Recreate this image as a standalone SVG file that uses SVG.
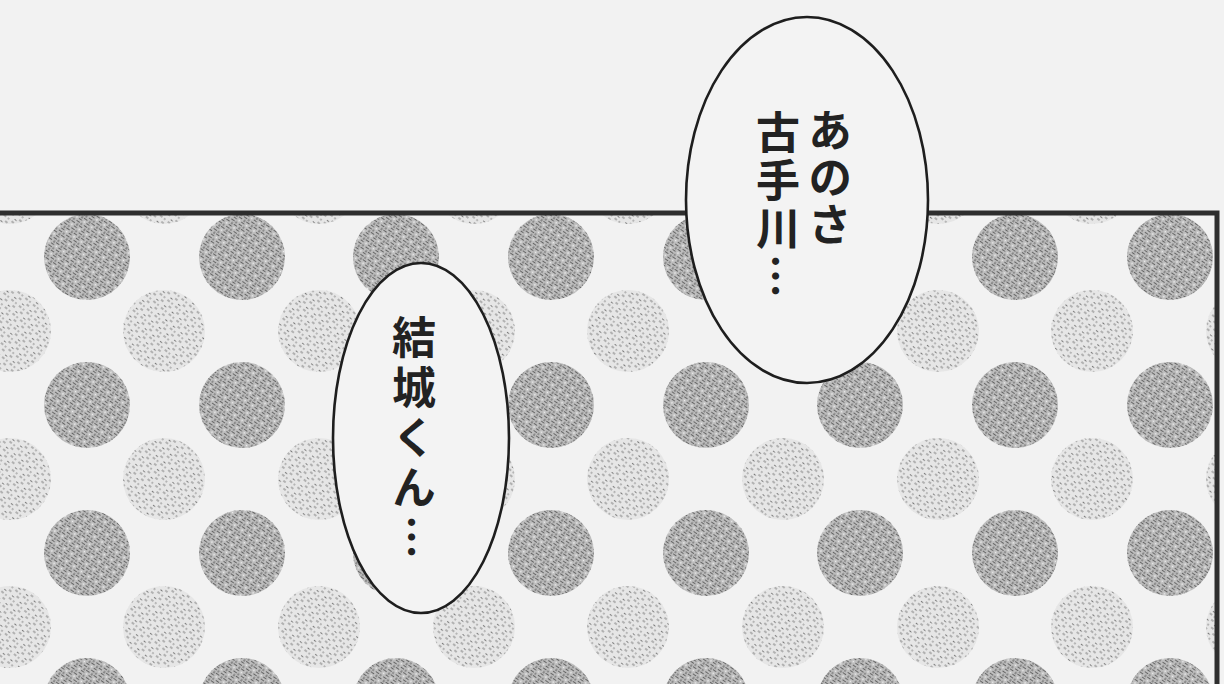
<svg xmlns="http://www.w3.org/2000/svg" width="1224" height="684" viewBox="0 0 1224 684">
<style>
.bg{fill:#f2f2f2}
.frame{fill:none;stroke:#2e2e2e;stroke-width:5}
.dk{fill:url(#darkTex)}
.lt{fill:url(#lightTex)}
.balloon{fill:#f3f3f3;stroke:#1e1e1e;stroke-width:2.6}
.vt{font-family:"Noto Sans CJK JP","Noto Sans CJK SC",sans-serif;font-size:44px;font-weight:700;fill:#222;writing-mode:vertical-rl}
</style>
<defs>
<pattern id="darkTex" width="9" height="9" patternUnits="userSpaceOnUse" patternTransform="rotate(35)">
<rect width="9" height="9" fill="#bdbdbd"/>
<path d="M0 1.5h4M5 4.5h4M1 7.5h3.5M6 0.8v2M3 3.5v2.5" stroke="#666" stroke-width="1.2"/>
<circle cx="7.5" cy="7.5" r="0.9" fill="#ececec"/>
</pattern>
<pattern id="lightTex" width="10" height="10" patternUnits="userSpaceOnUse" patternTransform="rotate(40)">
<rect width="10" height="10" fill="#e6e6e6"/>
<path d="M1 2h3M6 6h3M2 8.5h2.5M7 1v1.8" stroke="#7c7c7c" stroke-width="1"/>
</pattern>
<clipPath id="panelClip"><rect x="-10" y="215" width="1226" height="480"/></clipPath>
</defs>
<rect class="bg" width="1224" height="684"/>
<g id="panel">
<g id="dots" clip-path="url(#panelClip)">
<g class="dk">
<circle cx="87" cy="257" r="43"/><circle cx="242" cy="257" r="43"/><circle cx="396" cy="257" r="43"/><circle cx="551" cy="257" r="43"/><circle cx="706" cy="257" r="43"/><circle cx="860" cy="257" r="43"/><circle cx="1015" cy="257" r="43"/><circle cx="1170" cy="257" r="43"/>
<circle cx="87" cy="405" r="43"/><circle cx="242" cy="405" r="43"/><circle cx="396" cy="405" r="43"/><circle cx="551" cy="405" r="43"/><circle cx="706" cy="405" r="43"/><circle cx="860" cy="405" r="43"/><circle cx="1015" cy="405" r="43"/><circle cx="1170" cy="405" r="43"/>
<circle cx="87" cy="553" r="43"/><circle cx="242" cy="553" r="43"/><circle cx="396" cy="553" r="43"/><circle cx="551" cy="553" r="43"/><circle cx="706" cy="553" r="43"/><circle cx="860" cy="553" r="43"/><circle cx="1015" cy="553" r="43"/><circle cx="1170" cy="553" r="43"/>
<circle cx="87" cy="701" r="43"/><circle cx="242" cy="701" r="43"/><circle cx="396" cy="701" r="43"/><circle cx="551" cy="701" r="43"/><circle cx="706" cy="701" r="43"/><circle cx="860" cy="701" r="43"/><circle cx="1015" cy="701" r="43"/><circle cx="1170" cy="701" r="43"/>
</g>
<g class="lt">
<circle cx="10" cy="183" r="41"/><circle cx="164" cy="183" r="41"/><circle cx="319" cy="183" r="41"/><circle cx="474" cy="183" r="41"/><circle cx="628" cy="183" r="41"/><circle cx="783" cy="183" r="41"/><circle cx="938" cy="183" r="41"/><circle cx="1092" cy="183" r="41"/>
<circle cx="10" cy="331" r="41"/><circle cx="164" cy="331" r="41"/><circle cx="319" cy="331" r="41"/><circle cx="474" cy="331" r="41"/><circle cx="628" cy="331" r="41"/><circle cx="783" cy="331" r="41"/><circle cx="938" cy="331" r="41"/><circle cx="1092" cy="331" r="41"/><circle cx="1247" cy="331" r="41"/>
<circle cx="10" cy="479" r="41"/><circle cx="164" cy="479" r="41"/><circle cx="319" cy="479" r="41"/><circle cx="474" cy="479" r="41"/><circle cx="628" cy="479" r="41"/><circle cx="783" cy="479" r="41"/><circle cx="938" cy="479" r="41"/><circle cx="1092" cy="479" r="41"/><circle cx="1247" cy="479" r="41"/>
<circle cx="10" cy="627" r="41"/><circle cx="164" cy="627" r="41"/><circle cx="319" cy="627" r="41"/><circle cx="474" cy="627" r="41"/><circle cx="628" cy="627" r="41"/><circle cx="783" cy="627" r="41"/><circle cx="938" cy="627" r="41"/><circle cx="1092" cy="627" r="41"/><circle cx="1247" cy="627" r="41"/>
</g>
</g>
<path class="frame" d="M-10 213H1217V700"/>
</g>
<g id="balloon-anosa">
<ellipse class="balloon" cx="807" cy="200" rx="121" ry="183"/>
<text class="vt" x="830" y="108" letter-spacing="3">あのさ</text>
<text class="vt" x="778" y="110" letter-spacing="4">古手川…</text>
</g>
<g id="balloon-yuuki">
<ellipse class="balloon" cx="421" cy="438" rx="88" ry="175"/>
<text class="vt" x="414" y="315" letter-spacing="6">結城くん…</text>
</g>
</svg>
